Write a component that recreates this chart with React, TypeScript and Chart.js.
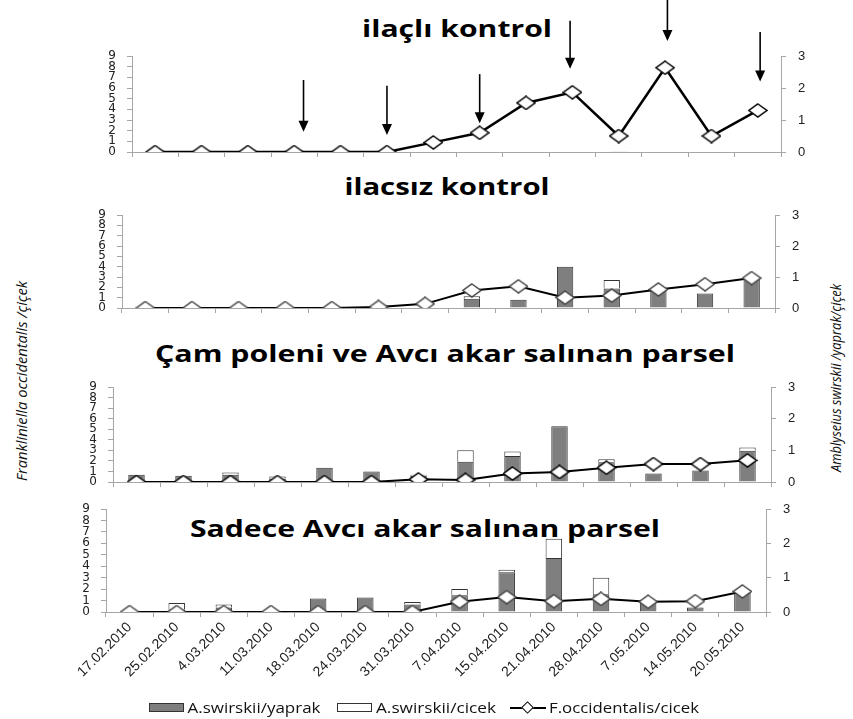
import React, { useEffect, useRef } from 'react';
import { Chart, registerables } from 'chart.js';

Chart.register(...registerables);

// ---------------- DATA ----------------
const categories = [
  '17.02.2010', '25.02.2010', '4.03.2010', '11.03.2010', '18.03.2010', '24.03.2010', '31.03.2010',
  '7.04.2010', '15.04.2010', '21.04.2010', '28.04.2010', '7.05.2010', '14.05.2010', '20.05.2010',
];

const seriesNames = ['A.swirskii/yaprak', 'A.swirskii/cicek', 'F.occidentalis/cicek'];
const panelTitles = [
  'ilaçlı kontrol',
  'ilacsız kontrol',
  'Çam poleni ve Avcı akar salınan parsel',
  'Sadece Avcı akar salınan parsel',
];
const leftAxisTitle = 'Frankliniella occidentalis /çiçek';
const rightAxisTitle = 'Amblyseius swirskii /yaprak/çiçek';

const leftMax = 9; // F. occidentalis axis
const rightMax = 3; // A. swirskii axis

// Panel 1: ilaçlı kontrol
const thrips1 = [0, 0, 0, 0, 0, 0, 0.9, 1.8, 4.6, 5.6, 1.5, 7.9, 1.5, 3.9];
const leaf1 = [null, null, null, null, null, null, null, null, null, null, 0.01, null, null, null];
const flower1 = [null, null, null, null, null, null, null, null, null, null, null, null, null, null];

// Panel 2: ilacsız kontrol
const thrips2 = [0, 0, 0, 0, 0, 0.1, 0.4, 1.7, 2.1, 1.0, 1.2, 1.8, 2.3, 2.9];
const leaf2 = [null, null, null, null, null, null, null, 0.3, 0.27, 1.33, 0.63, 0.62, 0.47, 0.98];
const flower2 = [null, null, null, null, null, null, null, 0.08, null, null, 0.27, null, null, null];

// Panel 3: Çam poleni ve Avcı akar salınan parsel
const thrips3 = [0, 0, 0, 0, 0, 0, 0.25, 0.2, 0.8, 0.95, 1.35, 1.7, 1.7, 2.05];
const leaf3 = [0.23, 0.2, 0.23, 0.1, 0.45, 0.33, 0.2, 0.64, 0.82, 1.76, 0.62, 0.27, 0.36, 0.99];
const flower3 = [null, null, 0.07, 0.07, null, null, 0.03, 0.36, 0.14, null, 0.1, null, null, 0.1];

// Panel 4: Sadece Avcı akar salınan parsel
const thrips4 = [0, 0, 0, 0, 0, 0, 0, 0.9, 1.3, 0.95, 1.15, 0.9, 0.95, 1.8];
const leaf4 = [null, 0.07, 0.13, null, 0.39, 0.42, 0.22, 0.49, 1.16, 1.57, 0.52, 0.31, 0.13, 0.56];
const flower4 = [null, 0.19, 0.09, null, null, null, 0.07, 0.18, 0.07, 0.56, 0.48, null, null, null];

// Spraying arrows in panel 1 (category position, top value, tip value on left axis)
const arrowIndex = [3.2, 5, 7, 8.95, 11.05, 13.05];
const arrowTop = [6.75, 6.2, 7.3, 12.3, 14.6, 11.25];
const arrowTip = [1.9, 1.6, 2.7, 7.8, 10.4, 6.6];

// ---------------- LAYOUT / STYLE ----------------
const W = 853;
const H = 719;
const AXW = 40;

const panelData = [
  { thrips: thrips1, leaf: leaf1, flower: flower1 },
  { thrips: thrips2, leaf: leaf2, flower: flower2 },
  { thrips: thrips3, leaf: leaf3, flower: flower3 },
  { thrips: thrips4, leaf: leaf4, flower: flower4 },
];

const panelGeom = [
  { L: 132, R: 781, T: 56, B: 152, HX: 30, labels: false, marker: '#000', lw: 2.5, arrows: true },
  { L: 122, R: 775, T: 215, B: 308, HX: 30, labels: false, marker: '#444', lw: 2, arrows: false },
  { L: 113, R: 771, T: 387, B: 482, HX: 30, labels: false, marker: '#000', lw: 2, arrows: false },
  { L: 106, R: 766, T: 509, B: 612, HX: 80, labels: true, marker: '#444', lw: 2, arrows: false },
];

const titleGeom = [
  { cx: 457, cy: 28, w: 190 },
  { cx: 447, cy: 186, w: 205 },
  { cx: 445, cy: 353, w: 580 },
  { cx: 425, cy: 528, w: 470 },
];

const TITLE_FONT = 'bold 24px "Open Sans"';
const AXIS_TITLE_FONT = 'italic 14px "Open Sans"';
const LEGEND_FONT = '14px "Open Sans"';

const measureCanvas = typeof document !== 'undefined' ? document.createElement('canvas') : null;
function measure(text: string, font: string): number {
  const ctx = measureCanvas!.getContext('2d')!;
  ctx.font = font;
  return ctx.measureText(text).width || 1;
}

function FitText(props: { text: string; cx: number; cy: number; width: number; font: string; rotate?: number; color?: string }) {
  const { text, cx, cy, width, font, rotate = 0, color = '#000' } = props;
  const sx = width / measure(text, font);
  return (
    <div
      style={{
        position: 'absolute',
        left: cx,
        top: cy,
        font,
        color,
        whiteSpace: 'nowrap',
        lineHeight: 1.2,
        transform: `translate(-50%, -50%) rotate(${rotate}deg) scaleX(${sx})`,
      }}
    >
      {text}
    </div>
  );
}

function makeDiamond(color: string): HTMLCanvasElement {
  const c = document.createElement('canvas');
  const w = 20;
  const h = 15;
  c.width = w;
  c.height = h;
  const ctx = c.getContext('2d')!;
  ctx.beginPath();
  ctx.moveTo(w / 2, 1);
  ctx.lineTo(w - 1, h / 2);
  ctx.lineTo(w / 2, h - 1);
  ctx.lineTo(1, h / 2);
  ctx.closePath();
  ctx.fillStyle = '#fff';
  ctx.fill();
  ctx.lineWidth = 1.5;
  ctx.strokeStyle = color;
  ctx.stroke();
  return c;
}

const arrowPlugin = {
  id: 'sprayArrows',
  afterDatasetsDraw(chart: any) {
    const xs = chart.scales.x;
    const ys = chart.scales.y;
    const ctx = chart.ctx;
    ctx.save();
    ctx.strokeStyle = '#000';
    ctx.fillStyle = '#000';
    ctx.lineWidth = 1.6;
    arrowIndex.forEach((v, i) => {
      const px = xs.getPixelForValue(v);
      const y0 = ys.getPixelForValue(arrowTop[i]);
      const y1 = ys.getPixelForValue(arrowTip[i]);
      ctx.beginPath();
      ctx.moveTo(px, y0);
      ctx.lineTo(px, y1 - 8);
      ctx.stroke();
      ctx.beginPath();
      ctx.moveTo(px - 5, y1 - 11);
      ctx.lineTo(px + 5, y1 - 11);
      ctx.lineTo(px, y1);
      ctx.closePath();
      ctx.fill();
    });
    ctx.restore();
  },
};

const AXIS_GRAY = '#a6a6a6';

function PanelChart({ idx }: { idx: number }) {
  const ref = useRef<HTMLCanvasElement>(null);
  useEffect(() => {
    const d = panelData[idx];
    const g = panelGeom[idx];
    const diamond = makeDiamond(g.marker);
    const chart = new Chart(ref.current!, {
      type: 'bar',
      data: {
        labels: categories,
        datasets: [
          {
            type: 'line',
            label: seriesNames[2],
            data: d.thrips,
            yAxisID: 'y',
            borderColor: '#000',
            borderWidth: g.lw,
            pointStyle: diamond as any,
            pointRadius: 8,
            tension: 0,
            order: 0,
          } as any,
          {
            type: 'bar',
            label: seriesNames[0],
            data: d.leaf,
            yAxisID: 'y1',
            stack: 's',
            backgroundColor: '#7f7f7f',
            borderColor: '#333',
            borderWidth: 1,
            barPercentage: 0.35,
            categoryPercentage: 1,
            order: 1,
          },
          {
            type: 'bar',
            label: seriesNames[1],
            data: d.flower,
            yAxisID: 'y1',
            stack: 's',
            backgroundColor: '#ffffff',
            borderColor: '#333',
            borderWidth: 1,
            barPercentage: 0.35,
            categoryPercentage: 1,
            order: 1,
          },
        ],
      },
      options: {
        animation: false,
        responsive: false,
        devicePixelRatio: 1,
        layout: {
          padding: {
            left: g.L - AXW,
            right: W - g.R - AXW,
            top: g.T,
            bottom: H - g.B - g.HX,
          },
        },
        plugins: {
          legend: { display: false },
          tooltip: { enabled: false },
          title: { display: false },
        },
        scales: {
          x: {
            stacked: true,
            offset: true,
            grid: {
              display: true,
              offset: true,
              drawOnChartArea: false,
              drawTicks: true,
              tickLength: 5,
              color: AXIS_GRAY,
            },
            border: { display: true, color: AXIS_GRAY, width: 1 },
            ticks: {
              display: g.labels,
              autoSkip: false,
              minRotation: 45,
              maxRotation: 45,
              padding: 2,
              color: '#222',
              font: { family: '"Liberation Sans"', size: 14 },
            },
            afterFit: (s: any) => {
              s.height = g.HX;
            },
          },
          y: {
            position: 'left',
            min: 0,
            max: leftMax,
            grid: { display: true, drawOnChartArea: false, tickLength: 5, color: AXIS_GRAY },
            border: { display: true, color: AXIS_GRAY, width: 1 },
            ticks: {
              stepSize: 1,
              autoSkip: false,
              padding: 11,
              color: '#222',
              font: { family: '"DejaVu Sans"', size: 12 },
            },
            afterFit: (s: any) => {
              s.width = AXW;
            },
          },
          y1: {
            position: 'right',
            stacked: true,
            min: 0,
            max: rightMax,
            grid: { display: true, drawOnChartArea: false, tickLength: 5, color: AXIS_GRAY },
            border: { display: true, color: AXIS_GRAY, width: 1 },
            ticks: {
              stepSize: 1,
              autoSkip: false,
              padding: 12,
              color: '#222',
              font: { family: '"Liberation Sans"', size: 13 },
            },
            afterFit: (s: any) => {
              s.width = AXW;
            },
          },
        },
      } as any,
      plugins: g.arrows ? [arrowPlugin] : [],
    });
    return () => chart.destroy();
  }, [idx]);
  return (
    <canvas
      ref={ref}
      width={W}
      height={H}
      style={{ position: 'absolute', left: 0, top: 0, width: W, height: H }}
    />
  );
}

function LegendItemBox({ x, fill }: { x: number; fill: string }) {
  return (
    <div
      style={{
        position: 'absolute',
        left: x,
        top: 703,
        width: 35,
        height: 9,
        background: fill,
        border: '1px solid #333',
        boxSizing: 'border-box',
      }}
    />
  );
}

export default function App() {
  return (
    <div
      style={{
        position: 'absolute',
        left: 0,
        top: 0,
        width: W,
        height: H,
        background: '#fff',
        overflow: 'hidden',
      }}
    >
      {panelTitles.map((t, i) => (
        <FitText key={t} text={t} cx={titleGeom[i].cx} cy={titleGeom[i].cy} width={titleGeom[i].w} font={TITLE_FONT} />
      ))}
      <FitText text={leftAxisTitle} cx={22} cy={381} width={200} font={AXIS_TITLE_FONT} rotate={-90} color="#111" />
      <FitText text={rightAxisTitle} cx={836} cy={378} width={188} font={AXIS_TITLE_FONT} rotate={-90} color="#111" />
      {[0, 1, 2, 3].map((i) => (
        <PanelChart key={i} idx={i} />
      ))}
      {/* legend */}
      <LegendItemBox x={149} fill="#7f7f7f" />
      <FitText text={seriesNames[0]} cx={254} cy={708} width={133} font={LEGEND_FONT} color="#111" />
      <LegendItemBox x={337} fill="#ffffff" />
      <FitText text={seriesNames[1]} cx={436} cy={708} width={120} font={LEGEND_FONT} color="#111" />
      <div style={{ position: 'absolute', left: 510, top: 707, width: 36, height: 2, background: '#000' }} />
      <div
        style={{
          position: 'absolute',
          left: 523,
          top: 703,
          width: 7,
          height: 7,
          background: '#fff',
          border: '1px solid #000',
          transform: 'rotate(45deg)',
        }}
      />
      <FitText text={seriesNames[2]} cx={624} cy={708} width={150} font={LEGEND_FONT} color="#111" />
    </div>
  );
}
